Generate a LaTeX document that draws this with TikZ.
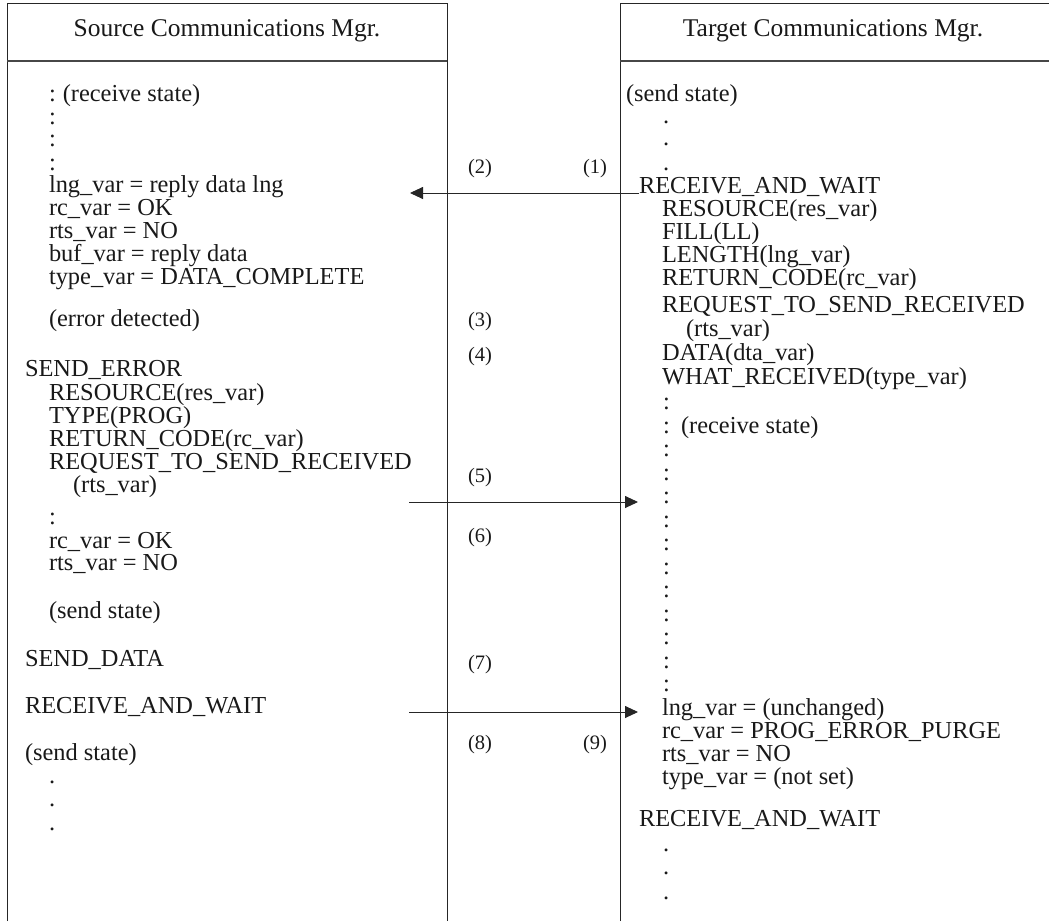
\documentclass[tikz,border=0pt]{standalone}
\usepackage{fontspec}
\setmainfont{Liberation Serif}
\usetikzlibrary{arrows.meta}
\newcommand\codefont{\fontsize{24.4}{24}\selectfont}
\newcommand\headfont{\fontsize{25.5}{25}\selectfont}
\newcommand\numfont{\fontsize{20.5}{20}\selectfont}
\tikzset{
  frame/.style={line width=1pt, draw=black!85},
  headrule/.style={line width=2.2pt, draw=black!72},
  txt/.style={anchor=base west, inner sep=0pt, outer sep=0pt, font=\codefont, text=black!90},
  title/.style={anchor=center, inner sep=0pt, font=\headfont, text=black!90},
  seqno/.style={anchor=center, inner sep=0pt, font=\numfont, text=black!90},
  msg/.style={line width=0.9pt, draw=black!85, -{Triangle[length=13pt,width=12pt]}},
}
\begin{document}
\begin{tikzpicture}[x=1pt,y=-1pt]
\useasboundingbox (0,0) rectangle (1049,921);

% swim-lane frames
\draw[frame] (7,921) -- (7,3) -- (447,3) -- (447,921);
\draw[headrule] (7,61) -- (447,61);
\draw[frame] (620,921) -- (620,3) -- (1049,3);
\draw[headrule] (620,61) -- (1049,61);

% ---------------- source side ----------------
\node[title] (srcT) at (227,31) {Source Communications Mgr.};
\node[txt] (sRecv) at (49,101) {:\hspace{7pt}(receive state)};
\foreach \y [count=\i] in {124,146,170}
  \node[txt] (sc\i) at (49,\y) {:};
\node[txt] (sL1) at (49,192) {lng\_var = reply data lng};
\node[txt] (sL2) at (49,215) {rc\_var = OK};
\node[txt] (sL3) at (49,238) {rts\_var = NO};
\node[txt] (sL4) at (49,261) {buf\_var = reply data};
\node[txt] (sL5) at (49,284) {type\_var = DATA\_COMPLETE};
\node[txt] (sErr) at (49,326) {(error detected)};
\node[txt] (sSE) at (25,376) {SEND\_ERROR};
\node[txt] (sSE1) at (49,400) {RESOURCE(res\_var)};
\node[txt] (sSE2) at (49,423) {TYPE(PROG)};
\node[txt] (sSE3) at (49,446) {RETURN\_CODE(rc\_var)};
\node[txt] (sSE4) at (49,469) {REQUEST\_TO\_SEND\_RECEIVED};
\node[txt] (sSE5) at (73,492) {(rts\_var)};
\node[txt] (sc4) at (49,524) {:};
\node[txt] (sR1) at (49,548) {rc\_var = OK};
\node[txt] (sR2) at (49,570) {rts\_var = NO};
\node[txt] (sSend) at (49,618) {(send state)};
\node[txt] (sSD) at (25,666) {SEND\_DATA};
\node[txt] (sRW) at (25,713) {RECEIVE\_AND\_WAIT};
\node[txt] (sSend2) at (25,760) {(send state)};
\foreach \y [count=\i] in {783,806,830}
  \node[txt] (sd\i) at (49,\y) {.};

% ---------------- target side ----------------
\node[title] (tgtT) at (833,31) {Target Communications Mgr.};
\node[txt] (tSend) at (626,101) {(send state)};
\foreach \y [count=\i] in {123,145,170}
  \node[txt] (td\i) at (663,\y) {.};
\node[txt] (tRW) at (639,193) {RECEIVE\_AND\_WAIT};
\node[txt] (tRW1) at (662,216) {RESOURCE(res\_var)};
\node[txt] (tRW2) at (662,239) {FILL(LL)};
\node[txt] (tRW3) at (662,262) {LENGTH(lng\_var)};
\node[txt] (tRW4) at (662,285) {RETURN\_CODE(rc\_var)};
\node[txt] (tRW5) at (662,312) {REQUEST\_TO\_SEND\_RECEIVED};
\node[txt] (tRW6) at (686,336) {(rts\_var)};
\node[txt] (tRW7) at (662,360) {DATA(dta\_var)};
\node[txt] (tRW8) at (662,384) {WHAT\_RECEIVED(type\_var)};
\foreach \k in {0,...,12}
  \node[txt] (tc\k) at (663,{409.5+23.5*\k}) {:};
\node[txt] (tRecv) at (681,433) {(receive state)};
\node[txt] (tV1) at (662,715) {lng\_var = (unchanged)};
\node[txt] (tV2) at (662,738) {rc\_var = PROG\_ERROR\_PURGE};
\node[txt] (tV3) at (662,761) {rts\_var = NO};
\node[txt] (tV4) at (662,784) {type\_var = (not set)};
\node[txt] (tRW2b) at (639,826) {RECEIVE\_AND\_WAIT};
\foreach \y [count=\i] in {851,874,899}
  \node[txt] (te\i) at (663,\y) {.};

% ---------------- sequence numbers ----------------
\node[seqno] (n1) at (595,169) {(1)};
\node[seqno] (n2) at (480,169) {(2)};
\node[seqno] (n3) at (480,322) {(3)};
\node[seqno] (n4) at (480,357) {(4)};
\node[seqno] (n5) at (480,478) {(5)};
\node[seqno] (n6) at (480,538) {(6)};
\node[seqno] (n7) at (480,665) {(7)};
\node[seqno] (n8) at (480,745) {(8)};
\node[seqno] (n9) at (595,745) {(9)};

% ---------------- messages ----------------
\coordinate (replyTip) at (410,193);
\coordinate (errFrom) at (409,502);
\coordinate (errTo) at (638,502);
\coordinate (rwFrom) at (409,712);
\coordinate (rwTo) at (638,712);
\draw[msg] (tRW.base west) -- (replyTip);
\draw[msg] (errFrom) -- (errTo);
\draw[msg] (rwFrom) -- (rwTo);
\end{tikzpicture}
\end{document}
